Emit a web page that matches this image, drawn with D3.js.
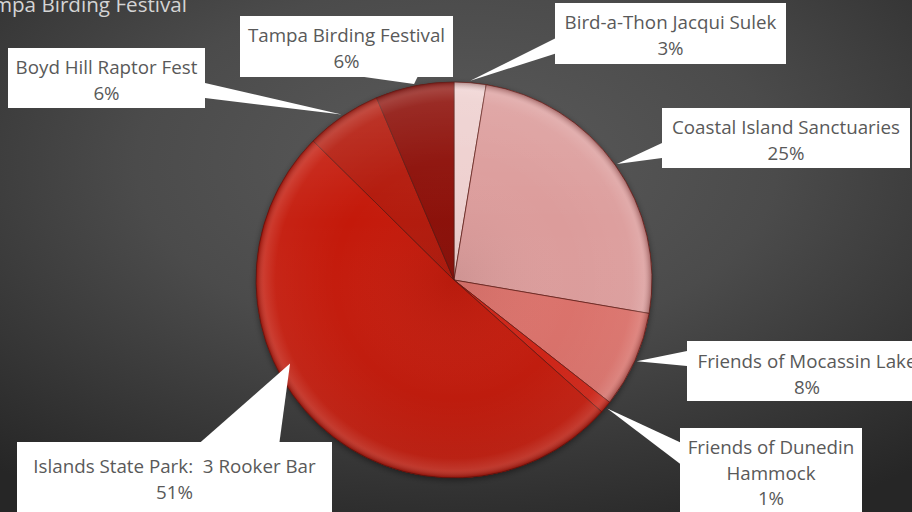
<!DOCTYPE html>
<html>
<head>
<meta charset="utf-8">
<script src="https://cdn.jsdelivr.net/npm/d3@7"></script>
<style>
    html, body { margin: 0; padding: 0; background: #333; overflow: hidden; }
    svg { display: block; }
    text { white-space: pre; }
</style>
</head>
<body>
<div id="chart"></div>
<script>
// ============================================================================
// data
// ============================================================================

const chartTitle = "Tampa Birding Festival";

const categories = [
    "Bird-a-Thon Jacqui Sulek",
    "Coastal Island Sanctuaries",
    "Friends of Mocassin Lake",
    "Friends of Dunedin Hammock",
    "Islands State Park:  3 Rooker Bar",
    "Boyd Hill Raptor Fest",
    "Tampa Birding Festival"
];

// share of the total, percent
const values = [2.6, 25.1, 7.9, 1.0, 50.8, 6.2, 6.4];

// label text lines (how the labels wrap in the picture)
const labelLines = [
    ["Bird-a-Thon Jacqui Sulek"],
    ["Coastal Island Sanctuaries"],
    ["Friends of Mocassin Lake"],
    ["Friends of Dunedin", "Hammock"],
    ["Islands State Park:  3 Rooker Bar"],
    ["Boyd Hill Raptor Fest"],
    ["Tampa Birding Festival"]
];

// ============================================================================
// layout / style
// ============================================================================

const width = 912;
const height = 512;
const cx = 454, cy = 280, radius = 198;

const sliceColors = ["#eed0cf", "#dc9c9b", "#dc716a", "#d22214", "#c4190a", "#b3190b", "#8c0e07"];

// label boxes: x, y, w, h, first baseline offset, optional tip angle (deg) and tip radius
const labelBoxes = [
    {x: 555, y: 3,   w: 231, h: 61, pad: 26},
    {x: 662, y: 108, w: 248, h: 60, pad: 26},
    {x: 687, y: 341, w: 240, h: 60, pad: 27},
    {x: 680, y: 428, w: 182, h: 86, pad: 26},
    {x: 17,  y: 442, w: 315, h: 80, pad: 31, tipAngle: 243, tipR: 184},
    {x: 8,   y: 48,  w: 197, h: 60, pad: 26},
    {x: 240, y: 16,  w: 213, h: 61, pad: 26}
];

const lineHeight = 25.5;
const fontFamily = "'Open Sans', 'Noto Sans', sans-serif";

// ============================================================================
// svg + defs
// ============================================================================

const svg = d3.select("#chart")
    .append("svg")
    .attr("width", width)
    .attr("height", height);

const defs = svg.append("defs");

// background
const bg = defs.append("radialGradient")
    .attr("id", "bg")
    .attr("cx", "50%").attr("cy", "32%").attr("r", "78%");
bg.append("stop").attr("offset", "0%").attr("stop-color", "#5b5b5b");
bg.append("stop").attr("offset", "45%").attr("stop-color", "#4b4b4b");
bg.append("stop").attr("offset", "100%").attr("stop-color", "#262626");

// rim shading on the pie
const rim = defs.append("radialGradient")
    .attr("id", "rim")
    .attr("gradientUnits", "userSpaceOnUse")
    .attr("cx", cx).attr("cy", cy).attr("r", radius);
rim.append("stop").attr("offset", "0%").attr("stop-color", "#000").attr("stop-opacity", 0.06);
rim.append("stop").attr("offset", "60%").attr("stop-color", "#fff").attr("stop-opacity", 0.0);
rim.append("stop").attr("offset", "90%").attr("stop-color", "#fff").attr("stop-opacity", 0.04);
rim.append("stop").attr("offset", "96%").attr("stop-color", "#fff").attr("stop-opacity", 0.14);
rim.append("stop").attr("offset", "100%").attr("stop-color", "#3a0000").attr("stop-opacity", 0.35);

// light from the top
const shine = defs.append("linearGradient")
    .attr("id", "shine")
    .attr("x1", 0).attr("y1", 0).attr("x2", 0).attr("y2", 1);
shine.append("stop").attr("offset", "0%").attr("stop-color", "#fff").attr("stop-opacity", 0.1);
shine.append("stop").attr("offset", "35%").attr("stop-color", "#fff").attr("stop-opacity", 0.0);
shine.append("stop").attr("offset", "100%").attr("stop-color", "#000").attr("stop-opacity", 0.08);

const shadow = defs.append("filter")
    .attr("id", "shadow")
    .attr("x", "-20%").attr("y", "-20%").attr("width", "140%").attr("height", "140%");
shadow.append("feDropShadow")
    .attr("dx", 0).attr("dy", 2).attr("stdDeviation", 3)
    .attr("flood-color", "#000").attr("flood-opacity", 0.45);

svg.append("rect")
    .attr("width", width)
    .attr("height", height)
    .attr("fill", "url(#bg)");

// ============================================================================
// title
// ============================================================================

// measure a label so the substitute font takes about the width of the original
const probe = svg.append("text")
    .attr("font-family", fontFamily)
    .attr("font-size", 20)
    .text("Boyd Hill Raptor Fest");
const probeWidth = probe.node().getComputedTextLength();
probe.remove();
const labelFont = 20 * 182 / probeWidth;

svg.append("text")
    .attr("x", 187)
    .attr("y", 12)
    .attr("text-anchor", "end")
    .attr("font-family", fontFamily)
    .attr("font-size", labelFont * 1.1)
    .attr("fill", "#d4d4d4")
    .text(chartTitle);

// ============================================================================
// pie
// ============================================================================

const data = categories.map((c, i) => ({name: c, value: values[i], index: i}));

const pie = d3.pie()
    .sort(null)
    .value(d => d.value);

const arcs = pie(data);

const arc = d3.arc()
    .innerRadius(0)
    .outerRadius(radius);

const pieGroup = svg.append("g")
    .attr("transform", `translate(${cx},${cy})`);

pieGroup.append("circle")
    .attr("r", radius)
    .attr("fill", "#7a1a10")
    .attr("filter", "url(#shadow)");

pieGroup.selectAll("path.slice")
    .data(arcs)
    .join("path")
    .attr("class", "slice")
    .attr("d", arc)
    .attr("fill", d => sliceColors[d.index])
    .attr("stroke", "#5a1812")
    .attr("stroke-opacity", 0.7)
    .attr("stroke-width", 1);

// bevel-ish overlays
svg.append("circle")
    .attr("cx", cx).attr("cy", cy).attr("r", radius)
    .attr("fill", "url(#shine)")
    .attr("pointer-events", "none");

svg.append("circle")
    .attr("cx", cx).attr("cy", cy).attr("r", radius)
    .attr("fill", "url(#rim)")
    .attr("pointer-events", "none");

// ============================================================================
// callout labels
// ============================================================================

function fmtPct(v) {
    return Math.round(v) + "%";
}

// wedge like an office "wedgeRectCallout": base on the side that faces the tip
function wedgePoints(b, tip) {
    const hc = b.x + b.w / 2, vc = b.y + b.h / 2;
    const dxPos = tip[0] - hc, dyPos = tip[1] - vc;
    const dq = dxPos * b.h / b.w;
    const dz = Math.abs(dyPos) - Math.abs(dq);
    if (dz > 0) {
        const x1 = b.x + b.w * (dxPos > 0 ? 7 : 2) / 12;
        const x2 = b.x + b.w * (dxPos > 0 ? 10 : 5) / 12;
        const yy = dyPos > 0 ? b.y + b.h : b.y;
        return [[x1, yy], tip, [x2, yy]];
    } else {
        const y1 = b.y + b.h * (dyPos > 0 ? 7 : 2) / 12;
        const y2 = b.y + b.h * (dyPos > 0 ? 10 : 5) / 12;
        const xx = dxPos > 0 ? b.x + b.w : b.x;
        return [[xx, y1], tip, [xx, y2]];
    }
}

const labels = svg.append("g")
    .selectAll("g")
    .data(arcs)
    .join("g");

labels.each(function(d) {
    const b = labelBoxes[d.index];
    const g = d3.select(this);

    const a = b.tipAngle != null ? b.tipAngle * Math.PI / 180 : (d.startAngle + d.endAngle) / 2;
    const r = b.tipR != null ? b.tipR : radius + 2;
    const tip = [cx + r * Math.sin(a), cy - r * Math.cos(a)];

    g.append("polygon")
        .attr("points", wedgePoints(b, tip).map(p => p.join(",")).join(" "))
        .attr("fill", "#fff");

    g.append("rect")
        .attr("x", b.x).attr("y", b.y)
        .attr("width", b.w).attr("height", b.h)
        .attr("fill", "#fff");

    const lines = labelLines[d.index].concat([fmtPct(d.data.value)]);

    g.append("text")
        .attr("font-family", fontFamily)
        .attr("font-size", labelFont)
        .attr("fill", "#595959")
        .attr("text-anchor", "middle")
        .selectAll("tspan")
        .data(lines)
        .join("tspan")
        .attr("x", b.x + b.w / 2)
        .attr("y", (l, i) => b.y + b.pad + i * lineHeight)
        .text(l => l);
});
</script>
</body>
</html>
